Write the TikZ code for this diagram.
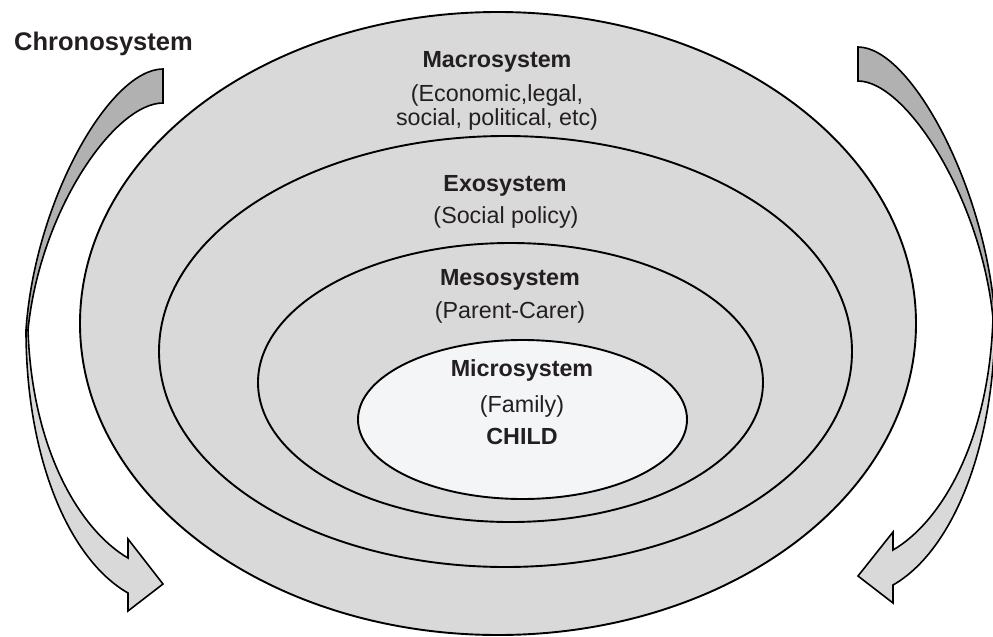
\documentclass[tikz,border=0pt]{standalone}
\usepackage{fontspec}
\setmainfont{Liberation Sans}
\definecolor{ringgray}{HTML}{D9D9D9}
\definecolor{coregray}{HTML}{F4F5F7}
\definecolor{backgray}{HTML}{B1B1B1}
\definecolor{inkgray}{HTML}{231F20}
\begin{document}
\begin{tikzpicture}[x=1pt,y=-1pt,
  ring/.style={draw=black, line width=1.9pt, fill=ringgray},
  ribbon/.style={draw=black, line width=1.6pt, line join=miter},
  title/.style={font=\fontsize{23.3}{24}\selectfont\bfseries, text=inkgray, anchor=base, inner sep=0pt},
  sub/.style={font=\fontsize{23.3}{24}\selectfont, text=inkgray, anchor=base, inner sep=0pt, align=center}]
\useasboundingbox (0,0) rectangle (993,637);

% nested systems
\draw[ring] (498,323.5) ellipse [x radius=418, y radius=311.5];
\draw[ring] (505.5,351.5) ellipse [x radius=346.5, y radius=215.5];
\draw[ring] (510.5,382.5) ellipse [x radius=252.5, y radius=139.5];
\draw[ring, fill=coregray] (522.5,419.5) ellipse [x radius=164.5, y radius=79.5];

% left chronosystem arrow
\draw[ribbon, fill=backgray] (163,69) -- (163,103) .. controls (115,103) and (40,210) .. (28,330)
  -- (26,330) .. controls (35,200) and (110,69) .. (163,69) -- cycle;
\draw[ribbon, fill=ringgray] (28,330) .. controls (32,450) and (80,530) .. (128,558)
  -- (128,539) -- (163,584) -- (128,611) -- (128,593)
  .. controls (70,560) and (26,460) .. (26,330) -- cycle;

% right chronosystem arrow
\draw[ribbon, fill=backgray] (858,47) -- (858,81) .. controls (906,81) and (981,198) .. (993,318)
  -- (995,318) .. controls (986,188) and (911,47) .. (858,47) -- cycle;
\draw[ribbon, fill=ringgray] (993,318) .. controls (989,442) and (941,522) .. (893,550)
  -- (893,532) -- (858,576) -- (893,603) -- (893,585)
  .. controls (951,552) and (995,450) .. (995,318) -- cycle;

% labels
\node[title, font=\fontsize{25.5}{26}\selectfont\bfseries] (chrono) at (103.5,50) {Chronosystem};
\node[title] (macro) at (497,67) {Macrosystem};
\node[sub] (macrosub) at (497,125) {(Economic,legal,\\social, political, etc)};
\node[title] (exo) at (505,191) {Exosystem};
\node[sub] (exosub) at (506,223) {(Social policy)};
\node[title] (meso) at (510,285) {Mesosystem};
\node[sub] (mesosub) at (510,318) {(Parent-Carer)};
\node[title] (micro) at (522,376) {Microsystem};
\node[sub] (microsub) at (522,412) {(Family)};
\node[title] (child) at (522,444) {CHILD};
\end{tikzpicture}
\end{document}
